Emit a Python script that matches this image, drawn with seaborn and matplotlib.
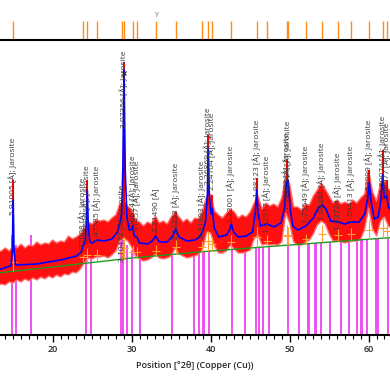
import matplotlib
matplotlib.use("Agg")
import matplotlib.pyplot as plt
import seaborn as sns
import numpy as np
import pandas as pd

# ---------------- data (counts, angles in degrees 2theta) ----------------
band_theta = [13.0, 13.5, 14.0, 14.5, 15.0, 15.5, 16.0, 16.5, 17.0, 17.5,
              18.0, 18.5, 19.0, 19.5, 20.0, 20.5, 21.0, 21.5, 22.0, 22.5,
              23.0, 23.5, 24.0, 24.5, 25.0, 25.5, 26.0, 26.5, 27.0, 27.5,
              28.0, 28.5, 29.0, 29.5, 30.0, 30.5, 31.0, 31.5, 32.0, 32.5,
              33.0, 33.5, 34.0, 34.5, 35.0, 35.5, 36.0, 36.5, 37.0, 37.5,
              38.0, 38.5, 39.0, 39.5, 40.0, 40.5, 41.0, 41.5, 42.0, 42.5,
              43.0, 43.5, 44.0, 44.5, 45.0, 45.5, 46.0, 46.5, 47.0, 47.5,
              48.0, 48.5, 49.0, 49.5, 50.0, 50.5, 51.0, 51.5, 52.0, 52.5,
              53.0, 53.5, 54.0, 54.5, 55.0, 55.5, 56.0, 56.5, 57.0, 57.5,
              58.0, 58.5, 59.0, 59.5, 60.0, 60.5, 61.0, 61.5, 62.0, 62.5,
              63.0]
band_high = [830, 840, 870, 840, 890, 870, 910, 870, 900, 890,
             930, 900, 920, 910, 950, 920, 940, 930, 990, 960,
             980, 1010, 1070, 1130, 1110, 1150, 1140, 1150, 1130, 1170,
             1200, 1310, 1340, 1290, 1250, 1150, 1130, 1090, 1130, 1110,
             1190, 1120, 1140, 1110, 1180, 1230, 1180, 1130, 1160, 1120,
             1170, 1160, 1250, 1390, 1410, 1240, 1200, 1170, 1220, 1260,
             1230, 1170, 1200, 1180, 1230, 1320, 1390, 1260, 1320, 1290,
             1310, 1280, 1370, 1590, 1510, 1280, 1280, 1250, 1310, 1300,
             1390, 1450, 1520, 1460, 1390, 1320, 1350, 1310, 1330, 1310,
             1350, 1320, 1370, 1410, 1640, 1430, 1340, 1520, 1540, 1460,
             1430]
band_low = [490, 510, 500, 530, 520, 550, 530, 560, 540, 570,
            550, 580, 560, 590, 570, 600, 580, 610, 600, 630,
            620, 660, 720, 770, 760, 780, 780, 790, 770, 800,
            840, 940, 970, 940, 880, 790, 760, 740, 750, 770,
            810, 770, 760, 770, 790, 870, 810, 790, 770, 780,
            790, 810, 860, 1030, 1020, 890, 820, 820, 840, 900,
            860, 820, 820, 830, 850, 960, 1000, 900, 910, 900,
            905, 900, 930, 1220, 1120, 930, 900, 900, 930, 950,
            1010, 1100, 1140, 1110, 1010, 940, 940, 930, 920, 930,
            940, 940, 960, 1060, 1270, 1060, 990, 1140, 1180, 1090,
            1060]

red_peak_pos = [15.0, 24.38, 28.73, 29.03, 30.13, 33.04, 35.57, 39.70,
                40.20, 42.61, 45.82, 49.70, 54.13, 60.08, 61.77, 62.28]
red_peak_top = [1550, 1550, 1350, 2730, 1220, 1150, 1230, 2000,
                1400, 1230, 1570, 1750, 1450, 1650, 1850, 1550]
red_peak_base = [700, 900, 1100, 1200, 1000, 950, 1000, 1300,
                 1200, 1050, 1150, 1400, 1250, 1300, 1350, 1350]

fit_theta = [13.0, 14.7, 14.9, 15.0, 15.1, 15.3, 18.0, 21.0, 23.0, 23.6,
             23.87, 24.1, 24.25, 24.38, 24.5, 24.7, 25.0, 25.65, 26.5, 27.5,
             28.2, 28.6, 28.73, 28.88, 29.03, 29.18, 29.4, 29.7, 30.0, 30.13,
             30.35, 30.71, 31.0, 32.0, 32.6, 33.04, 33.5, 34.5, 35.2, 35.57,
             36.0, 37.0, 38.0, 38.6, 38.94, 39.35, 39.58, 39.70, 39.82, 40.05,
             40.20, 40.45, 41.0, 42.0, 42.4, 42.61, 42.9, 43.5, 44.5, 45.3,
             45.65, 45.82, 45.98, 46.3, 47.17, 48.0, 48.9, 49.35, 49.62, 49.79,
             50.05, 50.4, 51.0, 52.06, 53.0, 53.6, 54.13, 54.6, 55.2, 56.15,
             57.0, 57.80, 58.8, 59.5, 59.88, 60.08, 60.28, 60.7, 61.2, 61.55,
             61.77, 61.98, 62.28, 62.5, 63.0]
fit_counts = [650, 690, 850, 1350, 850, 700, 710, 750, 790, 830,
              900, 920, 1100, 1450, 1100, 930, 920, 950, 940, 960,
              1030, 1150, 1220, 1650, 2650, 1650, 1170, 1050, 1060, 1090,
              990, 970, 920, 910, 940, 990, 930, 930, 990, 1060,
              980, 940, 950, 980, 1030, 1130, 1400, 1870, 1400, 1210,
              1270, 1070, 980, 1000, 1050, 1110, 1030, 980, 990, 1030,
              1230, 1450, 1230, 1090, 1110, 1080, 1120, 1270, 1530, 1550,
              1270, 1090, 1050, 1090, 1170, 1270, 1300, 1260, 1140, 1130,
              1110, 1130, 1130, 1210, 1370, 1530, 1350, 1160, 1180, 1350,
              1600, 1370, 1390, 1280, 1230]

bg_theta = [13.0, 20.0, 30.0, 40.0, 50.0, 63.0]
bg_counts = [620, 680, 770, 840, 900, 975]

# peak list (positions, d-spacings, label anchors)
peak_pos = [15.00, 23.87, 24.38, 25.65, 28.73, 29.03, 30.13, 30.71, 33.04,
            35.57, 38.94, 39.70, 40.20, 42.61, 45.82, 47.17, 49.62, 49.79,
            52.06, 54.13, 56.15, 57.80, 60.08, 61.77, 62.28]
peak_d = ["5.91005", "3.72008", "3.65526", "3.47585", "3.10472", "3.07356",
          "2.96624", "2.91457", "2.71490", "2.52253", "2.31393", "2.26869",
          "2.24104", "2.12001", "1.98123", "1.92517", "1.83623", "1.82929",
          "1.75549", "1.69291", "1.63724", "1.59413", "1.53999", "1.50074",
          "1.48977"]
peak_phase = ["Jarosite"] * 8 + [""] + ["Jarosite"] * 16
label_base = [1200, 800, 920, 920, 730, 2070, 1020, 970, 1030,
              950, 970, 1500, 1450, 1120, 1380, 1020, 1250, 1370,
              1120, 1150, 1050, 1120, 1380, 1420, 1350]
peak_bg = [640, 730, 730, 740, 760, 760, 770, 780, 790,
           810, 830, 840, 840, 860, 880, 890, 900, 900,
           910, 930, 940, 950, 960, 970, 970]
peak_mark = [820, 830, 870, 860, 900, 980, 900, 880, 900,
             960, 940, 1040, 980, 1000, 1080, 1000, 1100, 1080,
             1010, 1100, 1060, 1070, 1150, 1170, 1120]

# reference pattern sticks
ref_pos = [14.81, 15.32, 17.25, 24.22, 24.89, 28.61, 28.86, 29.44, 30.04,
           31.01, 35.10, 37.85, 38.52, 38.99, 39.15, 39.82, 42.73, 44.34,
           45.70, 46.08, 46.62, 47.38, 49.79, 51.18, 52.28, 52.44, 53.17,
           53.29, 53.96, 55.10, 56.50, 57.47, 58.48, 58.99, 59.19, 59.79,
           60.89, 61.18, 62.48]
ref_counts = [1000, 900, 1000, 850, 850, 950, 950, 900, 850,
              800, 830, 830, 840, 840, 840, 850, 860, 870,
              880, 880, 885, 890, 900, 910, 915, 915, 920,
              920, 925, 930, 940, 945, 950, 955, 955, 960,
              965, 965, 970]

x_ticks = [20, 30, 40, 50, 60]
x_label = "Position [°2θ] (Copper (Cu))"

# ---------------- figure ----------------
sns.set_theme(style="white")
plt.rcParams["font.family"] = ["Open Sans", "DejaVu Sans"]

fig = plt.figure(figsize=(3.9, 3.9), dpi=100)
ax = fig.add_axes([0, 1 - 335 / 390, 1, 295 / 390])
axt = fig.add_axes([0, 1 - 40 / 390, 1, 30 / 390])
for a in (ax, axt):
    a.set_xlim(13.33, 62.7)
    a.set_facecolor("none")
    for s in ("top", "left", "right"):
        a.spines[s].set_visible(False)
    a.spines["bottom"].set_color("black")
    a.spines["bottom"].set_linewidth(1.5)
    a.set_yticks([])
ax.set_ylim(0, 2950)
axt.set_ylim(0, 30)

# reference sticks (behind)
ax.vlines(ref_pos, 0, ref_counts, color="#f050f0", lw=1.4, zorder=1)

# observed band
ax.fill_between(band_theta, band_low, band_high, color="#ff1010", lw=1.0,
                edgecolor="#ff7070", zorder=2)
ax.vlines(red_peak_pos, red_peak_base, red_peak_top, color="#ff0000", lw=1.5,
          zorder=2)

# background
sns.lineplot(x=bg_theta, y=bg_counts, ax=ax, color="#1f9a1f", lw=1.0,
             estimator=None, sort=False, zorder=3)

# peak-list marks (orange)
ax.vlines(peak_pos, peak_bg, peak_mark, color="#ffa030", lw=0.8, zorder=3)
ax.hlines([(b + m) / 2 for b, m in zip(peak_bg, peak_mark)],
          [p - 0.5 for p in peak_pos], [p + 0.5 for p in peak_pos],
          color="#ffa030", lw=0.8, zorder=3)

# calculated profile
sns.lineplot(x=fit_theta, y=fit_counts, ax=ax, color="#0000ff", lw=1.2,
             estimator=None, sort=False, zorder=4)
ax.plot([29.03], [2620], marker="x", color="#222222", ms=3, mew=0.8, zorder=5)

# labels
for p, d, ph, b in zip(peak_pos, peak_d, peak_phase, label_base):
    txt = f"{d} [Å]" + (f"; {ph}" if ph else "")
    ax.text(p, b, txt, rotation=90, ha="center", va="bottom", fontsize=6.0,
            color="#3a3a3a", clip_on=False, zorder=6)

# top peak-position strip
axt.vlines(peak_pos, 0, 19, color="#ff8c1a", lw=1.0)
axt.set_xticks([])
axt.text(33.04, 21, "Y", ha="center", va="bottom", fontsize=5, color="#666666")

# x axis
ax.set_xticks(x_ticks)
ax.set_xticks(np.arange(14, 63, 1), minor=True)
ax.tick_params(axis="x", which="major", direction="out", length=5, width=1,
               color="black", pad=2, labelsize=6.5, bottom=True)
ax.tick_params(axis="x", which="minor", direction="out", length=3, width=0.8,
               color="black", bottom=True)
for t in ax.get_xticklabels():
    t.set_fontweight("semibold")
ax.set_xlabel(x_label, fontsize=6.5, fontweight="semibold", labelpad=5)
ax.set_ylabel("")

fig.savefig("out.png", dpi=100)
